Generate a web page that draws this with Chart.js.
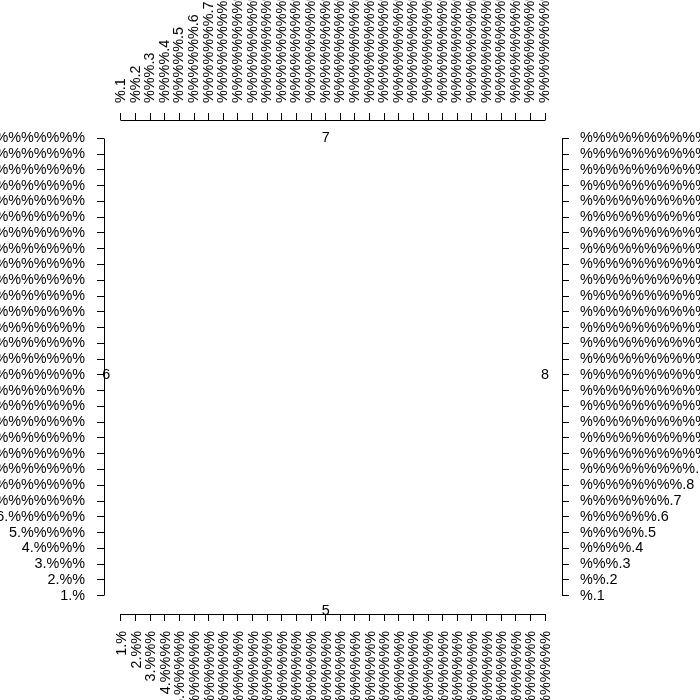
<!DOCTYPE html>
<html>
<head>
<meta charset="utf-8">
<script src="https://cdn.jsdelivr.net/npm/chart.js@4.4.1/dist/chart.umd.min.js"></script>
<style>
html,body{margin:0;padding:0;background:#fff;}
#wrap{width:700px;height:700px;position:relative;}
</style>
</head>
<body>
<div id="wrap"><canvas id="c" width="700" height="700"></canvas></div>
<script>
// tick positions (1..30) shared by all four axes
const tickValues = [1,2,3,4,5,6,7,8,9,10,11,12,13,14,15,16,17,18,19,20,21,22,23,24,25,26,27,28,29,30];

// bottom axis tick labels
const bottomLabels = [
  "1.%","2.%%","3.%%%","4.%%%%","5.%%%%%","6.%%%%%%","7.%%%%%%%","8.%%%%%%%%","9.%%%%%%%%%","10.%%%%%%%%%%",
  "11.%%%%%%%%%%%","12.%%%%%%%%%%%%","13.%%%%%%%%%%%%%","14.%%%%%%%%%%%%%%","15.%%%%%%%%%%%%%%%",
  "16.%%%%%%%%%%%%%%%%","17.%%%%%%%%%%%%%%%%%","18.%%%%%%%%%%%%%%%%%%","19.%%%%%%%%%%%%%%%%%%%","20.%%%%%%%%%%%%%%%%%%%%",
  "21.%%%%%%%%%%%%%%%%%%%%%","22.%%%%%%%%%%%%%%%%%%%%%%","23.%%%%%%%%%%%%%%%%%%%%%%%","24.%%%%%%%%%%%%%%%%%%%%%%%%","25.%%%%%%%%%%%%%%%%%%%%%%%%%",
  "26.%%%%%%%%%%%%%%%%%%%%%%%%%%","27.%%%%%%%%%%%%%%%%%%%%%%%%%%%","28.%%%%%%%%%%%%%%%%%%%%%%%%%%%%","29.%%%%%%%%%%%%%%%%%%%%%%%%%%%%%","30.%%%%%%%%%%%%%%%%%%%%%%%%%%%%%%"
];

// left axis tick labels
const leftLabels = [
  "1.%","2.%%","3.%%%","4.%%%%","5.%%%%%","6.%%%%%%","7.%%%%%%%","8.%%%%%%%%","9.%%%%%%%%%","10.%%%%%%%%%%",
  "11.%%%%%%%%%%%","12.%%%%%%%%%%%%","13.%%%%%%%%%%%%%","14.%%%%%%%%%%%%%%","15.%%%%%%%%%%%%%%%",
  "16.%%%%%%%%%%%%%%%%","17.%%%%%%%%%%%%%%%%%","18.%%%%%%%%%%%%%%%%%%","19.%%%%%%%%%%%%%%%%%%%","20.%%%%%%%%%%%%%%%%%%%%",
  "21.%%%%%%%%%%%%%%%%%%%%%","22.%%%%%%%%%%%%%%%%%%%%%%","23.%%%%%%%%%%%%%%%%%%%%%%%","24.%%%%%%%%%%%%%%%%%%%%%%%%","25.%%%%%%%%%%%%%%%%%%%%%%%%%",
  "26.%%%%%%%%%%%%%%%%%%%%%%%%%%","27.%%%%%%%%%%%%%%%%%%%%%%%%%%%","28.%%%%%%%%%%%%%%%%%%%%%%%%%%%%","29.%%%%%%%%%%%%%%%%%%%%%%%%%%%%%","30.%%%%%%%%%%%%%%%%%%%%%%%%%%%%%%"
];

// top axis tick labels
const topLabels = [
  "%.1","%%.2","%%%.3","%%%%.4","%%%%%.5","%%%%%%.6","%%%%%%%.7","%%%%%%%%.8","%%%%%%%%%.9","%%%%%%%%%%.10",
  "%%%%%%%%%%%.11","%%%%%%%%%%%%.12","%%%%%%%%%%%%%.13","%%%%%%%%%%%%%%.14","%%%%%%%%%%%%%%%.15",
  "%%%%%%%%%%%%%%%%.16","%%%%%%%%%%%%%%%%%.17","%%%%%%%%%%%%%%%%%%.18","%%%%%%%%%%%%%%%%%%%.19","%%%%%%%%%%%%%%%%%%%%.20",
  "%%%%%%%%%%%%%%%%%%%%%.21","%%%%%%%%%%%%%%%%%%%%%%.22","%%%%%%%%%%%%%%%%%%%%%%%.23","%%%%%%%%%%%%%%%%%%%%%%%%.24","%%%%%%%%%%%%%%%%%%%%%%%%%.25",
  "%%%%%%%%%%%%%%%%%%%%%%%%%%.26","%%%%%%%%%%%%%%%%%%%%%%%%%%%.27","%%%%%%%%%%%%%%%%%%%%%%%%%%%%.28","%%%%%%%%%%%%%%%%%%%%%%%%%%%%%.29","%%%%%%%%%%%%%%%%%%%%%%%%%%%%%%.30"
];

// right axis tick labels
const rightLabels = [
  "%.1","%%.2","%%%.3","%%%%.4","%%%%%.5","%%%%%%.6","%%%%%%%.7","%%%%%%%%.8","%%%%%%%%%.9","%%%%%%%%%%.10",
  "%%%%%%%%%%%.11","%%%%%%%%%%%%.12","%%%%%%%%%%%%%.13","%%%%%%%%%%%%%%.14","%%%%%%%%%%%%%%%.15",
  "%%%%%%%%%%%%%%%%.16","%%%%%%%%%%%%%%%%%.17","%%%%%%%%%%%%%%%%%%.18","%%%%%%%%%%%%%%%%%%%.19","%%%%%%%%%%%%%%%%%%%%.20",
  "%%%%%%%%%%%%%%%%%%%%%.21","%%%%%%%%%%%%%%%%%%%%%%.22","%%%%%%%%%%%%%%%%%%%%%%%.23","%%%%%%%%%%%%%%%%%%%%%%%%.24","%%%%%%%%%%%%%%%%%%%%%%%%%.25",
  "%%%%%%%%%%%%%%%%%%%%%%%%%%.26","%%%%%%%%%%%%%%%%%%%%%%%%%%%.27","%%%%%%%%%%%%%%%%%%%%%%%%%%%%.28","%%%%%%%%%%%%%%%%%%%%%%%%%%%%%.29","%%%%%%%%%%%%%%%%%%%%%%%%%%%%%%.30"
];

// free text annotations placed at data coordinates
const noteTexts = ["5", "6", "7", "8"];
const noteX = [15, 0, 15, 30];
const noteY = [0, 15, 30, 15];

// axis range (4% extension beyond 1..30)
const axisMin = -0.16;
const axisMax = 31.16;

const FONT = { family: '"Liberation Sans", Arial, Helvetica, sans-serif', size: 14.4 };
Chart.defaults.color = '#000';
Chart.defaults.font.family = FONT.family;
Chart.defaults.font.size = FONT.size;

function alignPx(p) { return Math.round(p - 0.5) + 0.5; }

function makeAxis(position, labels, pad, fitFn, rotate, labelOffset) {
  return {
    type: 'linear',
    position: position,
    min: axisMin,
    max: axisMax,
    afterBuildTicks: (scale) => { scale.ticks = tickValues.map(v => ({ value: v })); },
    afterFit: fitFn,
    border: { display: false },
    grid: { display: true, drawOnChartArea: false, drawTicks: true, tickLength: 7, color: '#000', lineWidth: 1 },
    ticks: {
      autoSkip: false,
      padding: pad,
      color: '#000',
      font: FONT,
      labelOffset: labelOffset || 0,
      minRotation: rotate ? 90 : 0,
      maxRotation: rotate ? 90 : 0,
      callback: (v, i) => labels[i]
    }
  };
}

const axisLinePlugin = {
  id: 'axisLines',
  afterDraw(chart) {
    const ctx = chart.ctx;
    const first = tickValues[0], last = tickValues[tickValues.length - 1];
    const sx = chart.scales.x, sx2 = chart.scales.x2, sy = chart.scales.y, sy2 = chart.scales.y2;
    ctx.save();
    ctx.strokeStyle = '#000';
    ctx.lineWidth = 1;
    ctx.beginPath();
    // bottom
    let yb = alignPx(sx.top);
    ctx.moveTo(alignPx(sx.getPixelForValue(first)), yb);
    ctx.lineTo(alignPx(sx.getPixelForValue(last)), yb);
    // top
    let yt = alignPx(sx2.bottom);
    ctx.moveTo(alignPx(sx2.getPixelForValue(first)), yt);
    ctx.lineTo(alignPx(sx2.getPixelForValue(last)), yt);
    // left
    let xl = alignPx(sy.right);
    ctx.moveTo(xl, alignPx(sy.getPixelForValue(first)));
    ctx.lineTo(xl, alignPx(sy.getPixelForValue(last)));
    // right
    let xr = alignPx(sy2.left);
    ctx.moveTo(xr, alignPx(sy2.getPixelForValue(first)));
    ctx.lineTo(xr, alignPx(sy2.getPixelForValue(last)));
    ctx.stroke();

    // annotations
    ctx.fillStyle = '#000';
    ctx.font = FONT.size + 'px ' + FONT.family;
    ctx.textAlign = 'center';
    ctx.textBaseline = 'middle';
    for (let i = 0; i < noteTexts.length; i++) {
      ctx.fillText(noteTexts[i], sx.getPixelForValue(noteX[i]), sy.getPixelForValue(noteY[i]));
    }
    ctx.restore();
  }
};

new Chart(document.getElementById('c'), {
  type: 'scatter',
  data: { datasets: [{ data: [], showLine: false, pointRadius: 0 }] },
  options: {
    responsive: false,
    animation: false,
    events: [],
    layout: { padding: 0 },
    plugins: { legend: { display: false }, tooltip: { enabled: false }, title: { display: false } },
    scales: {
      x: makeAxis('bottom', bottomLabels, 10, (s) => { s.height = 86; }, true, 1),
      x2: Object.assign(makeAxis('top', topLabels, 10, (s) => { s.height = 120; }, true, 17.3), { axis: 'x' }),
      y: makeAxis('left', leftLabels, 12, (s) => { s.width = 104; }, false),
      y2: Object.assign(makeAxis('right', rightLabels, 11, (s) => { s.width = 138; }, false), { axis: 'y' })
    }
  },
  plugins: [axisLinePlugin]
});
</script>
</body>
</html>
